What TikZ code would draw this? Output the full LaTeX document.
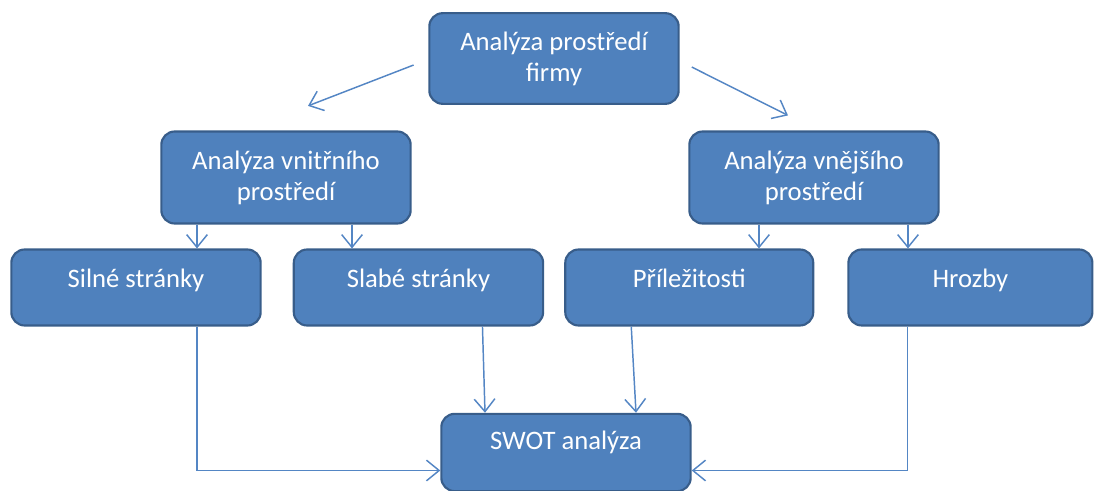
\documentclass[tikz,border=0pt]{standalone}
\usepackage{fontspec}
\setmainfont{Carlito}
\usetikzlibrary{positioning,arrows.meta}
\definecolor{boxfill}{RGB}{79,129,189}
\definecolor{boxline}{RGB}{56,93,138}
\definecolor{linkblue}{RGB}{84,134,196}
\tikzset{
  box/.style={draw=boxline, fill=boxfill, line width=1.6pt, rounded corners=10pt,
    text=white, align=center, font=\fontsize{20}{23.25}\selectfont,
    minimum width=187pt, inner sep=0pt},
  lowbox/.style={box, minimum height=57pt, text height=14pt, text depth=14pt},
  link/.style={draw=linkblue, line width=1.1pt, -{Straight Barb[length=9.5pt,width=15.5pt]}}
}

\begin{document}
\begin{tikzpicture}[x=0.75pt,y=-0.75pt]
            \useasboundingbox (0,0) rectangle (1097,491);

            \node[box, minimum height=68pt] (firma) at (554,58.5) {Analýza prostředí\\firmy};
            \node[box, minimum height=69pt] (vnitrni) at (286,177.5) {Analýza vnitřního\\prostředí};
            \node[box, minimum height=69pt] (vnejsi) at (814,177.5) {Analýza vnějšího\\prostředí};

            \node[lowbox] (silne) at (136,287.5) {Silné stránky};
            \node[lowbox, right=23.25pt of silne] (slabe) {Slabé stránky};
            \node[lowbox, right=15pt of slabe, minimum width=186pt] (prilez) {Příležitosti};
            \node[lowbox, right=24.75pt of prilez, minimum width=183pt] (hrozby) {Hrozby};

            \node[lowbox, text depth=19pt, minimum height=58pt] (swot) at (566,452.5) {SWOT analýza};

            \draw[link] ([xshift=-11pt,yshift=-4.9pt]firma.west) -- ([xshift=16.5pt,yshift=18.4pt]vnitrni.north);
            \draw[link] ([xshift=9pt,yshift=-6.4pt]firma.east) -- ([xshift=-19.5pt,yshift=11.25pt]vnejsi.north);

            \draw[link] ([xshift=-66.75pt]vnitrni.south) -- ([xshift=-66.75pt]vnitrni.south |- silne.north);
            \draw[link] ([xshift=49.5pt]vnitrni.south) -- ([xshift=49.5pt]vnitrni.south |- slabe.north);
            \draw[link] ([xshift=-41.25pt]vnejsi.south) -- ([xshift=-41.25pt]vnejsi.south |- prilez.north);
            \draw[link] ([xshift=70.5pt]vnejsi.south) -- ([xshift=70.5pt]vnejsi.south |- hrozby.north);

            \draw[link] ([xshift=48pt]slabe.south) -- ([xshift=-60.75pt]swot.north);
            \draw[link] ([xshift=-43.5pt]prilez.south) -- ([xshift=52.5pt]swot.north);
            \draw[link] ([xshift=45.75pt]silne.south) |- ([yshift=-13.5pt]swot.west);
            \draw[link] ([xshift=-47.25pt]hrozby.south) |- ([yshift=-13.5pt]swot.east);
        \end{tikzpicture}
\end{document}
